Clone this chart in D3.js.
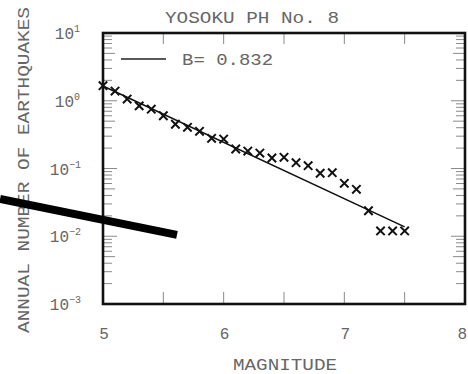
<!DOCTYPE html>
<html><head><meta charset="utf-8">
<script src="https://cdn.jsdelivr.net/npm/d3@7"></script>
<style>
html,body{margin:0;padding:0;background:#fff;}
svg{display:block;}
text{font-family:"Liberation Mono","DejaVu Sans Mono",monospace;fill:#666;}
</style></head><body>
<svg id="c" width="468" height="374"></svg>
<script>
const titleText = "YOSOKU PH No. 8";
const xTitle = "MAGNITUDE";
const yTitle = "ANNUAL NUMBER OF EARTHQUAKES";
const magnitudes = [5.0,5.1,5.2,5.3,5.4,5.5,5.6,5.7,5.8,5.9,6.0,6.1,6.2,6.3,6.4,6.5,6.6,6.7,6.8,6.9,7.0,7.1,7.2,7.3,7.4,7.5];
const annualCounts = [1.67,1.39,1.06,0.84,0.75,0.60,0.45,0.405,0.354,0.279,0.272,0.194,0.181,0.169,0.143,0.146,0.122,0.110,0.085,0.0867,0.0605,0.0493,0.0238,0.0120,0.0120,0.0120];
const bValue = 0.832;
const aValue = 4.378;
const fitRange = [5.0, 7.5];
const xTicks = [5,6,7,8];
const xMinorTicks = [5.5,6,6.5,7,7.5];
const yExponents = [1,0,-1,-2,-3];
const legendLabel = "B= 0.832";
// stray pen stroke across the scanned sheet (data coords)
const strayStroke = [[4.147, -1.45],[5.613, -1.98]];

const svg = d3.select("#c");
const L=103, R=465, T=33, B=304;
const x = d3.scaleLinear().domain([5,8]).range([L,R]);
const y = d3.scaleLog().domain([1e-3,1e1]).range([B,T]);

const yTickVals = [];
for (let e=-3; e<1; e++) for (let k=1;k<=9;k++) yTickVals.push(k*Math.pow(10,e));
yTickVals.push(10);
const tickCol="#8a8a8a";
yTickVals.forEach(v=>{
  const k = Math.round(v/Math.pow(10,Math.floor(Math.log10(v)+1e-9)));
  const len = (k===1)?14:(k===5?12:9);
  svg.append("line").attr("x1",L).attr("x2",L+len).attr("y1",y(v)).attr("y2",y(v)).attr("stroke",tickCol).attr("stroke-width",1);
  svg.append("line").attr("x1",R).attr("x2",R-len).attr("y1",y(v)).attr("y2",y(v)).attr("stroke",tickCol).attr("stroke-width",1);
});
xMinorTicks.forEach(m=>{
  svg.append("line").attr("x1",x(m)).attr("x2",x(m)).attr("y1",T).attr("y2",T+11).attr("stroke",tickCol).attr("stroke-width",1);
  svg.append("line").attr("x1",x(m)).attr("x2",x(m)).attr("y1",B).attr("y2",B-12).attr("stroke",tickCol).attr("stroke-width",1);
});

svg.append("rect").attr("x",L).attr("y",T).attr("width",R-L).attr("height",B-T)
  .attr("fill","none").attr("stroke","#111").attr("stroke-width",2.6);

xTicks.forEach(m=>{
  const last = m===8;
  svg.append("text").attr("x",last?467:x(m)+1).attr("y",339).attr("text-anchor",last?"end":"middle")
    .attr("font-size",16).text(m);
});
yExponents.forEach(e=>{
  const t = svg.append("text").attr("x",e<0?81:80).attr("y",y(Math.pow(10,e))+6).attr("text-anchor","end").attr("font-size",16);
  t.append("tspan").text("10");
  t.append("tspan").attr("dy",-7).attr("font-size",10).text(String(e).replace("-","\u2212"));
});

svg.append("text").attr("x",252).attr("y",23).attr("text-anchor","middle").attr("font-size",17)
  .attr("textLength",174).attr("lengthAdjust","spacingAndGlyphs").text(titleText);
svg.append("text").attr("x",285).attr("y",370).attr("text-anchor","middle").attr("font-size",16)
  .attr("textLength",104).attr("lengthAdjust","spacingAndGlyphs").text(xTitle);
svg.append("text").attr("transform","translate(29,170) rotate(-90)").attr("text-anchor","middle").attr("font-size",16)
  .attr("textLength",326).attr("lengthAdjust","spacingAndGlyphs").text(yTitle);

const fitLine = d3.line().x(d=>x(d)).y(d=>y(Math.pow(10,aValue-bValue*d)));
svg.append("path").attr("d",fitLine(fitRange)).attr("fill","none").attr("stroke","#111").attr("stroke-width",1.6);

const s=4.2;
magnitudes.forEach((m,i)=>{
  const cx=x(m), cy=y(annualCounts[i]);
  svg.append("path").attr("d",`M${cx-s},${cy-s}L${cx+s},${cy+s}M${cx-s},${cy+s}L${cx+s},${cy-s}`)
    .attr("stroke","#111").attr("stroke-width",2);
});

svg.append("line").attr("x1",121).attr("x2",166).attr("y1",59).attr("y2",59).attr("stroke","#222").attr("stroke-width",1.6);
svg.append("text").attr("x",182).attr("y",65).attr("font-size",16).attr("textLength",91).attr("lengthAdjust","spacingAndGlyphs").text(legendLabel);

svg.append("path").attr("d",d3.line().x(d=>x(d[0])).y(d=>y(Math.pow(10,d[1])))(strayStroke))
  .attr("stroke","#000").attr("stroke-width",8).attr("fill","none");
</script>
</body></html>
